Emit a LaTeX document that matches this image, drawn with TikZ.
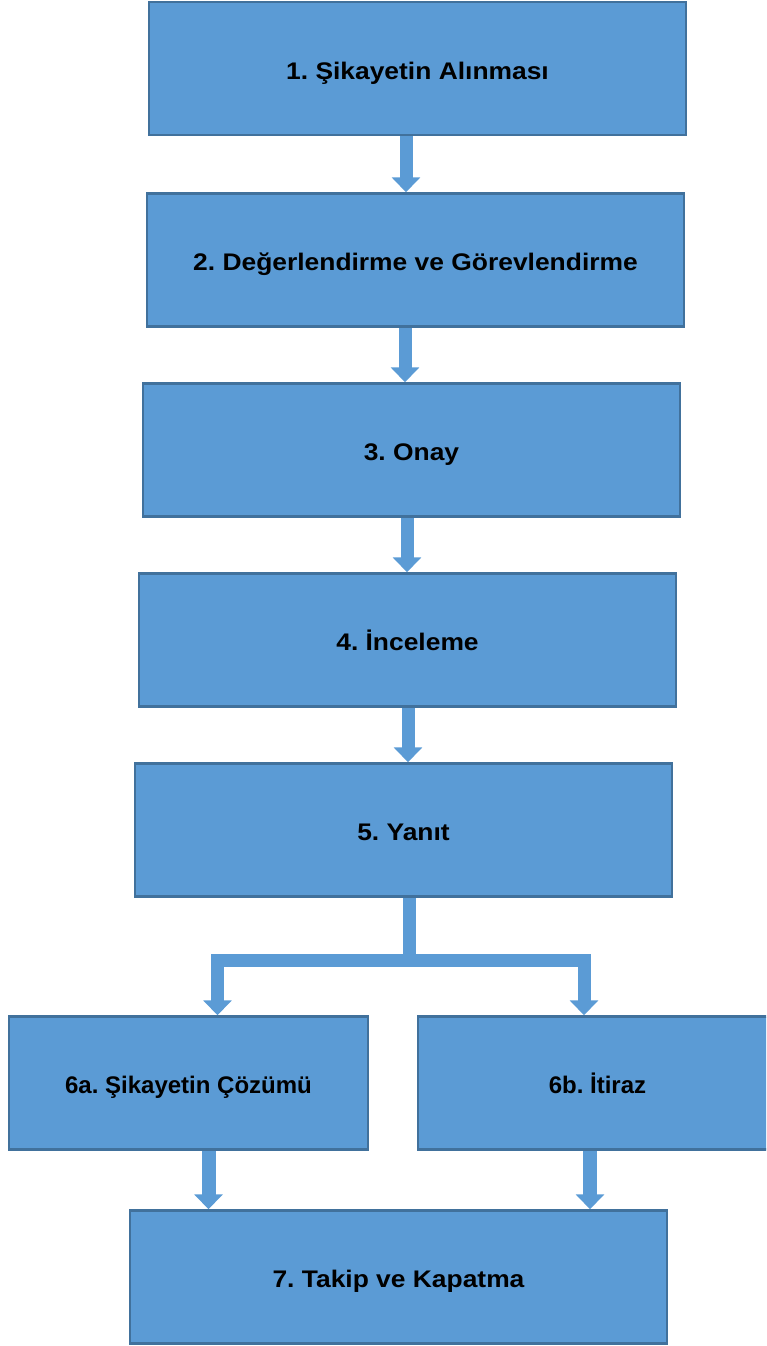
\documentclass[tikz,border=0pt]{standalone}
\usepackage{fontspec}
\setmainfont{Liberation Sans}[FakeStretch=1.1]
\newfontfamily\plainsans{Liberation Sans}
\usetikzlibrary{arrows.meta}
\definecolor{boxfill}{HTML}{5B9BD5}
\definecolor{boxline}{HTML}{41719C}
\tikzset{
  stepbox/.style={rectangle, draw=boxline, fill=boxfill, line width=2.5pt,
    minimum width=537pt, minimum height=133pt, inner sep=0pt,
    text height=26pt, text depth=5pt,
    font=\frenchspacing\bfseries\fontsize{24}{29}\selectfont, text=black},
  halfbox/.style={stepbox, minimum width=359pt,
    font=\frenchspacing\plainsans\bfseries\fontsize{24}{29}\selectfont},
  conn/.style={draw=boxfill, line width=13pt, line join=miter,
    -{Triangle[width=28pt,length=15pt]}}
}
\begin{document}
\begin{tikzpicture}[x=1pt,y=-1pt]
\useasboundingbox (0,0) rectangle (766,1346);
\clip (0,0) rectangle (766,1346);
\node[stepbox] (b1) at (417.5,68.5) {1. Şikayetin Alınması};
\node[stepbox] (b2) at (415.5,260) {2. Değerlendirme ve Görevlendirme};
\node[stepbox] (b3) at (411.5,450) {3. Onay};
\node[stepbox] (b4) at (407.5,640) {4. İnceleme};
\node[stepbox] (b5) at (403.5,830) {5. Yanıt};
\node[halfbox] (b6a) at (188.5,1083) {6a. Şikayetin Çözümü};
\node[halfbox] (b6b) at (597.5,1083) {6b. İtiraz};
\node[stepbox] (b7) at (398.5,1277) {7. Takip ve Kapatma};
\coordinate (c1) at (406,0);
\coordinate (c2) at (405,0);
\coordinate (c3) at (407,0);
\coordinate (c4) at (408,0);
\coordinate (cs) at (409.5,960);
\coordinate (cl) at (217.5,0);
\coordinate (cr) at (584,0);
\coordinate (dl) at (208.5,0);
\coordinate (dr) at (590,0);
\draw[conn] (b1.south -| c1) -- (b2.north -| c1);
\draw[conn] (b2.south -| c2) -- (b3.north -| c2);
\draw[conn] (b3.south -| c3) -- (b4.north -| c3);
\draw[conn] (b4.south -| c4) -- (b5.north -| c4);
\draw[conn] (b5.south -| cs) -- (cs) -| (b6a.north -| cl);
\draw[conn] (b5.south -| cs) -- (cs) -| (b6b.north -| cr);
\draw[conn, line width=14pt] (b6a.south -| dl) -- (b7.north -| dl);
\draw[conn, line width=14pt] (b6b.south -| dr) -- (b7.north -| dr);
\end{tikzpicture}
\end{document}
